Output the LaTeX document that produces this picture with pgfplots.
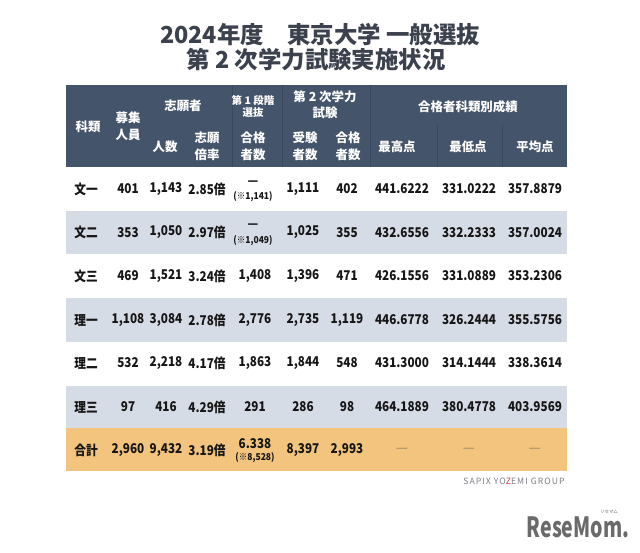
\documentclass[border=0pt]{standalone}
\usepackage{fontspec}
\setmainfont{Noto Sans CJK JP}
\usepackage{pgfplots}
\pgfplotsset{compat=1.18}
\usepackage{pgfplotstable}

\definecolor{hdr}{HTML}{44546A}
\definecolor{hdrline}{HTML}{39475A}
\definecolor{rowgray}{HTML}{D6DCE5}
\definecolor{rowsum}{HTML}{F3C47E}
\definecolor{ttl}{HTML}{3B424D}
\definecolor{ink}{HTML}{161616}
\definecolor{sumdash}{HTML}{9A8663}
\definecolor{logo}{HTML}{6A6A6A}
\definecolor{sapix}{HTML}{7C7F86}
\definecolor{zred}{HTML}{D9343A}

% title and header labels: x y text
\pgfplotstableread{
x y t
320 35 {2024年度　東京大学 一般選抜}
316 60 {第 2 次学力試験実施状況}
}\titletab

\pgfplotstableread{
x y t
88 127 科類
128 118 募集
128 135 人員
183 106 志願者
165 147 人数
207 138 志願
207 155 倍率
253 138 合格
253 155 者数
325 97 {第 2 次学力}
325 113 試験
305 138 受験
305 155 者数
348 138 合格
348 155 者数
468 107 合格者科類別成績
397 147 最高点
468 147 最低点
535 147 平均点
}\headtab

\pgfplotstableread{
x y t
253 100 {第 1 段階}
253 113 選抜
}\headsmall

% body cells
\pgfplotstableread{
x y t
86 189 文一
128 189 401
166 189 1,143
207 189 2.85倍
253 183 —
303 189 1,111
347 189 402
402 189 441.6222
469 189 331.0222
535 189 357.8879
86 232.5 文二
128 232.5 353
166 232.5 1,050
207 232.5 2.97倍
253 226.5 —
303 232.5 1,025
347 232.5 355
402 232.5 432.6556
469 232.5 332.2333
535 232.5 357.0024
86 276 文三
128 276 469
166 276 1,521
207 276 3.24倍
255 276 1,408
303 276 1,396
347 276 471
402 276 426.1556
469 276 331.0889
535 276 353.2306
86 320 理一
128 320 1,108
166 320 3,084
207 320 2.78倍
255 320 2,776
303 320 2,735
347 320 1,119
402 320 446.6778
469 320 326.2444
535 320 355.5756
86 363 理二
128 363 532
166 363 2,218
207 363 4.17倍
255 363 1,863
303 363 1,844
347 363 548
402 363 431.3000
469 363 314.1444
535 363 338.3614
86 407 理三
128 407 97
166 407 416
207 407 4.29倍
255 407 291
303 407 286
347 407 98
402 407 464.1889
469 407 380.4778
535 407 403.9569
86 450 合計
128 450 2,960
166 450 9,432
207 450 3.19倍
255 444 6.338
303 450 8,397
347 450 2,993
}\bodytab

\pgfplotstableread{
x y t
253 197 (※1,141)
253 240.5 (※1,049)
255 458 (※8,528)
}\smalltab

\pgfplotstableread{
x y t
402 450 —
469 450 —
535 450 —
}\sumtab

\pgfplotsset{
  lbl/.style={only marks, mark=none, nodes near coords, point meta=explicit symbolic,
    every node near coord/.append style={anchor=center, inner sep=0pt, #1}},
  box/.style={draw=none, fill=#1, mark=none},
}

\begin{document}
\begin{tikzpicture}
\begin{axis}[
  width=640bp, height=552bp, scale only axis,
  xmin=0, xmax=640, ymin=0, ymax=552, y dir=reverse,
  hide axis, clip=false,
]
% backgrounds
\addplot[box=white] coordinates {(0,0)(640,0)(640,552)(0,552)} -- cycle;
\addplot[box=hdr] coordinates {(66,85)(567,85)(567,167)(66,167)} -- cycle;
\addplot[box=rowgray] coordinates {(66,211)(567,211)(567,254)(66,254)} -- cycle;
\addplot[box=rowgray] coordinates {(66,298)(567,298)(567,342)(66,342)} -- cycle;
\addplot[box=rowgray] coordinates {(66,386)(567,386)(567,428)(66,428)} -- cycle;
\addplot[box=rowsum] coordinates {(66,428)(567,428)(567,471)(66,471)} -- cycle;

% faint header dividers
\addplot[draw=hdrline, line width=0.8pt] coordinates {(232,85)(232,167)};
\addplot[draw=hdrline, line width=0.8pt] coordinates {(282,85)(282,167)};
\addplot[draw=hdrline, line width=0.8pt] coordinates {(370,85)(370,167)};
\addplot[draw=hdrline, line width=0.8pt] coordinates {(437,125)(437,167)};
\addplot[draw=hdrline, line width=0.8pt] coordinates {(502,125)(502,167)};

% text
\addplot[lbl={font=\fontsize{23.5}{25}\selectfont\bfseries, text=ttl}] table[meta=t] \titletab;
\addplot[lbl={font=\fontsize{12.5}{14}\selectfont\bfseries, text=white}] table[meta=t] \headtab;
\addplot[lbl={font=\fontsize{10.5}{12}\selectfont\bfseries, text=white}] table[meta=t] \headsmall;
\addplot[lbl={font=\fontsize{13.5}{15}\selectfont\bfseries\addfontfeature{FakeStretch=0.87}, text=ink}] table[meta=t] \bodytab;
\addplot[lbl={font=\fontsize{9.5}{11}\selectfont\bfseries\addfontfeature{FakeStretch=0.9}, text=ink}] table[meta=t] \smalltab;
\addplot[lbl={font=\fontsize{13.5}{15}\selectfont, text=sumdash}] table[meta=t] \sumtab;

% source and logo
\addplot[only marks, mark=none,
  nodes near coords={SAPIX YO\textcolor{zred}{Z}EMI GROUP},
  every node near coord/.append style={anchor=center, inner sep=0pt, text=sapix,
    font=\fontsize{8.7}{10}\selectfont\addfontfeature{LetterSpace=12}}]
  coordinates {(514,481)};
\addplot[only marks, mark=none,
  nodes near coords={ReseMom.},
  every node near coord/.append style={anchor=center, inner sep=0pt, text=logo,
    font=\fontsize{28}{30}\selectfont\bfseries\addfontfeature{FakeStretch=0.7}}]
  coordinates {(578,527)};
\addplot[only marks, mark=none,
  nodes near coords={リセマム},
  every node near coord/.append style={anchor=center, inner sep=0pt, text=logo,
    font=\fontsize{4.5}{5}\selectfont}]
  coordinates {(609,512)};
\end{axis}
\end{tikzpicture}
\end{document}
